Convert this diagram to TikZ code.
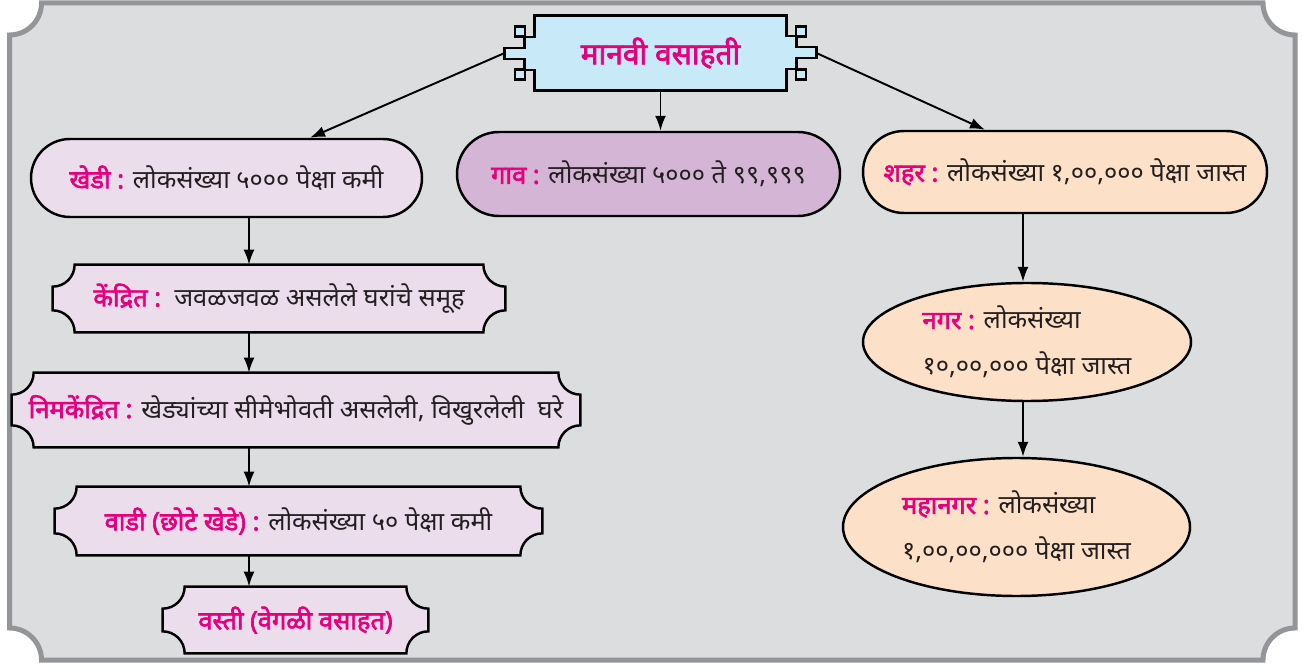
\documentclass[tikz,border=0pt]{standalone}
\usepackage{fontspec}
\usepackage{tikz}
\usetikzlibrary{arrows,arrows.meta,%
                shapes,positioning,backgrounds}
\setmainfont[Script=Devanagari,BoldFont={Noto Sans},
             BoldFeatures={FakeBold=2.5}]{Noto Sans}

\definecolor{backgray}{HTML}{DCDDDF}
\definecolor{framegray}{HTML}{939598}
\definecolor{magentatext}{HTML}{E6007E}
\definecolor{blueback}{HTML}{C8E9F8}
\definecolor{lilacback}{HTML}{EBDDEC}
\definecolor{mauveback}{HTML}{D5B5D6}
\definecolor{peachback}{HTML}{FDE0C8}
\definecolor{inktext}{HTML}{231F20}

\newcommand\Term[1]{{\bfseries\color{magentatext}#1}}

% box with hollow corners, drawn round a node
\newcommand\HollowBox[2]{%
  \path[draw=black,line width=1.4pt,fill=#2]
    ([xshift=0.44cm]#1.north west) -- ([xshift=-0.44cm]#1.north east)
    arc[start angle=180,end angle=270,radius=0.44cm]
    -- ([yshift=0.44cm]#1.south east)
    arc[start angle=90,end angle=180,radius=0.44cm]
    -- ([xshift=0.44cm]#1.south west)
    arc[start angle=0,end angle=90,radius=0.44cm]
    -- ([yshift=-0.44cm]#1.north west)
    arc[start angle=270,end angle=360,radius=0.44cm] -- cycle;}

% title frame with the small squares
\newcommand\TitleFrame[1]{%
  \path[draw=black,line width=1.4pt,fill=blueback]
    ([xshift=0.6cm]#1.north west) -- ([xshift=-0.6cm]#1.north east)
    -- ++(0,-0.41) -- ++(0.2,0) -- ++(0,-0.22) -- ++(0.4,0)
    -- ++(0,-0.22) -- ++(-0.4,0) -- ++(0,-0.22) -- ++(-0.2,0)
    -- ([xshift=-0.6cm]#1.south east) -- ([xshift=0.6cm]#1.south west)
    -- ++(0,0.41) -- ++(-0.2,0) -- ++(0,0.22) -- ++(-0.4,0)
    -- ++(0,0.22) -- ++(0.4,0) -- ++(0,0.22) -- ++(0.2,0) -- cycle;
  \foreach \dx in {-2.91,2.71}
    \foreach \dy in {0.33,-0.53}
      \path[draw=black,line width=1.4pt,fill=blueback]
        ([shift={(\dx,\dy)}]#1.center) rectangle ++(0.2,0.2);}

\begin{document}
\begin{tikzpicture}[
  every node/.style={text=inktext,inner sep=0pt,
                     font=\fontsize{14.5pt}{17pt}\selectfont},
  pill/.style={rounded rectangle,draw=black,line width=1.4pt},
  oval/.style={ellipse,draw=black,line width=1.4pt,fill=peachback,align=left,
               font=\fontsize{14.5pt}{26pt}\selectfont},
  arr/.style={-{Latex[length=3mm,width=2.2mm]},line width=1.1pt}]
\useasboundingbox (0,0) rectangle (26.04,13.36);

\node[minimum width=6.22cm,minimum height=1.48cm,
      font=\fontsize{17pt}{20pt}\selectfont] (title) at (13.21,12.30)
  {\Term{मानवी वसाहती}};

\node[pill,fill=lilacback,minimum width=7.82cm,minimum height=1.56cm]
  (khedi) at (4.53,9.80) {\Term{खेडी :} लोकसंख्या ५००० पेक्षा कमी};
\node[pill,fill=mauveback,minimum width=7.66cm,minimum height=1.68cm]
  (gaav) at (12.97,9.88) {\Term{गाव :} लोकसंख्या ५००० ते ९९,९९९};
\node[pill,fill=peachback,minimum width=8.08cm,minimum height=1.64cm]
  (shahar) at (21.30,9.92) {\Term{शहर :} लोकसंख्या १,००,००० पेक्षा जास्त};

\node[minimum width=9.04cm,minimum height=1.34cm] (kendrit) at (5.58,7.39)
  {\Term{केंद्रित :}\ \ जवळजवळ असलेले घरांचे समूह};
\node[minimum width=11.36cm,minimum height=1.48cm] (nimkendrit) at (5.92,5.16)
  {\Term{निमकेंद्रित :} खेड्यांच्या सीमेभोवती असलेली, विखुरलेली\ \ घरे};
\node[minimum width=9.74cm,minimum height=1.36cm] (vadi) at (5.97,2.94)
  {\Term{वाडी (छोटे खेडे) :} लोकसंख्या ५० पेक्षा कमी};
\node[minimum width=5.3cm,minimum height=1.32cm] (vasti) at (5.91,0.96)
  {\Term{वस्ती (वेगळी वसाहत)}};

\node[oval,minimum width=6.56cm,minimum height=2.36cm] (nagar) at (20.54,6.52)
  {\Term{नगर :} लोकसंख्या\\ १०,००,००० पेक्षा जास्त};
\node[oval,minimum width=6.94cm,minimum height=2.76cm] (mahanagar) at (20.33,2.82)
  {\Term{महानगर :} लोकसंख्या\\ १,००,००,००० पेक्षा जास्त};

\coordinate (lcol) at (4.98,0);
\coordinate (rcol) at (20.46,0);

\draw[arr] (title.west) -- ([xshift=1.67cm]khedi.north);
\draw[arr] (title.south) -- (title.south |- gaav.north);
\draw[arr] (title.east) -- ([xshift=-1.6cm]shahar.north);

\draw[arr] (khedi.south -| lcol) -- (kendrit.north -| lcol);
\draw[arr] (kendrit.south -| lcol) -- (nimkendrit.north -| lcol);
\draw[arr] (nimkendrit.south -| lcol) -- (vadi.north -| lcol);
\draw[arr] (vadi.south -| lcol) -- (vasti.north -| lcol);

\draw[arr] (shahar.south -| rcol) -- (nagar.north -| rcol);
\draw[arr] (nagar.south -| rcol) -- (mahanagar.north -| rcol);

\begin{scope}[on background layer]
\path[fill=backgray,draw=framegray,line width=0.1cm]
  (0.19,0.8) -- (0.19,12.66) arc[start angle=270,end angle=360,radius=0.64]
  -- (25.26,13.3) arc[start angle=180,end angle=270,radius=0.64]
  -- (25.9,0.8) arc[start angle=90,end angle=180,radius=0.64]
  -- (0.83,0.16) arc[start angle=0,end angle=90,radius=0.64] -- cycle;
\TitleFrame{title}
\HollowBox{kendrit}{lilacback}
\HollowBox{nimkendrit}{lilacback}
\HollowBox{vadi}{lilacback}
\HollowBox{vasti}{lilacback}
\end{scope}
\end{tikzpicture}
\end{document}
